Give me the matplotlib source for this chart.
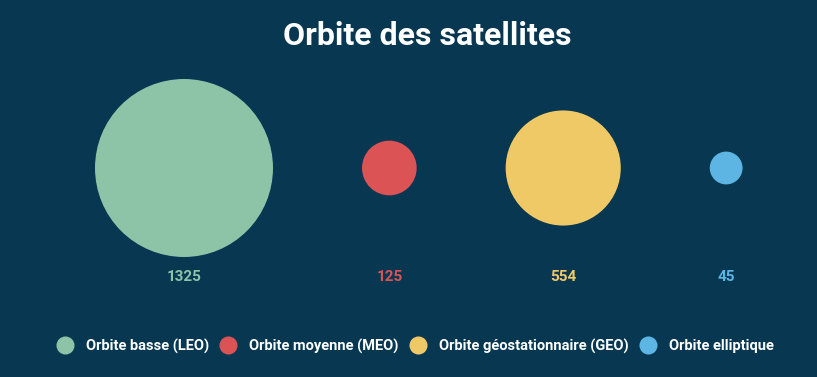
import matplotlib.pyplot as plt
import numpy as np
from matplotlib.patches import Circle
from matplotlib.lines import Line2D

plt.rcParams['font.family'] = ['Roboto', 'DejaVu Sans']

# data
categories = ['Orbite basse (LEO)', 'Orbite moyenne (MEO)',
              'Orbite géostationnaire (GEO)', 'Orbite elliptique']
values = [1325, 125, 554, 45]
colors = ['#8DC3A7', '#DC5356', '#F0C967', '#5DB5E4']
bg = '#073751'

W, H = 817, 377
fig = plt.figure(figsize=(W / 100, H / 100), dpi=100, facecolor=bg)
ax = fig.add_axes([0, 0, 1, 1])
ax.set_facecolor(bg)
ax.set_xlim(0, W)
ax.set_ylim(H, 0)
ax.set_aspect('equal')
ax.axis('off')

# circle area proportional to value, equal gaps between circles
k = 2.445
radii = k * np.sqrt(values)
gap = 89
x = 95
cy = 168
for v, r, c in zip(values, radii, colors):
    cx = x + r
    ax.add_patch(Circle((cx, cy), r, color=c, lw=0))
    ax.text(cx, 277, str(v), color=c, ha='center', va='center',
            fontsize=11, fontweight='bold')
    x = cx + r + gap

ax.text(427, 36, 'Orbite des satellites', color='white', ha='center',
        va='center', fontsize=23, fontweight='bold')

handles = [Line2D([], [], marker='o', linestyle='none', markersize=13,
                  markerfacecolor=c, markeredgewidth=0) for c in colors]
leg = fig.legend(handles, categories, loc='center', bbox_to_anchor=(412 / W, 1 - 346 / H),
                 ncol=4, frameon=False, handletextpad=0.45, columnspacing=0.3,
                 prop={'size': 10.5, 'weight': 'bold'})
for t in leg.get_texts():
    t.set_color('white')

fig.savefig('out.png', dpi=100, facecolor=bg)
